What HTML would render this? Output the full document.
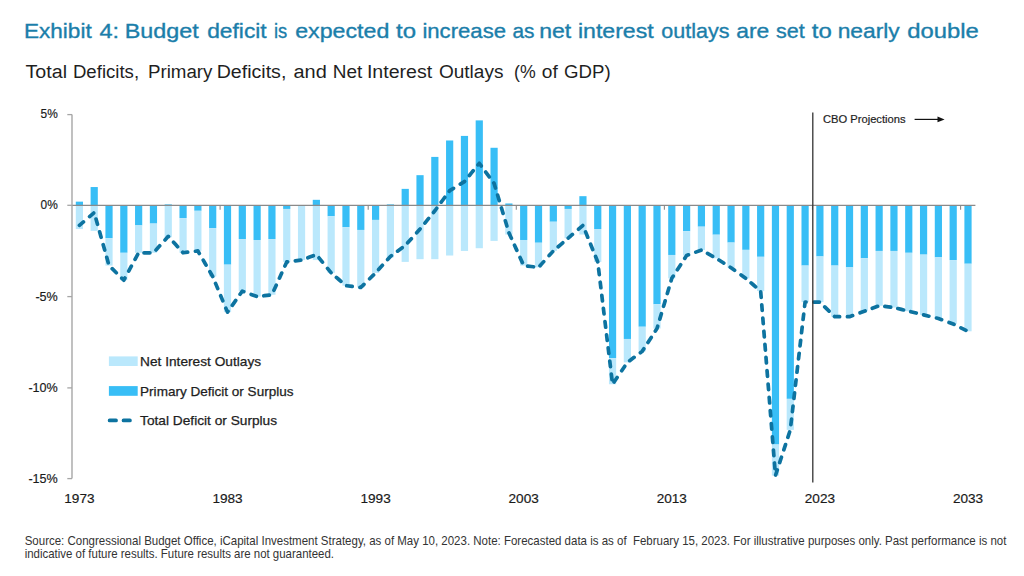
<!DOCTYPE html>
<html><head><meta charset="utf-8"><style>
html,body{margin:0;padding:0;background:#fff;width:1024px;height:576px;overflow:hidden}
svg{display:block}
text{font-family:"Liberation Sans",sans-serif}
.ax{font-size:13.6px;fill:#1a1a1a;stroke:#1a1a1a;stroke-width:0.18px}
.lg{font-size:13px;fill:#1e1e1e;stroke:#1e1e1e;stroke-width:0.25px}
</style></head><body>
<svg width="1024" height="576" viewBox="0 0 1024 576">
<rect width="1024" height="576" fill="#fff"/>
<text x="23.90" y="37.8" textLength="67.80" lengthAdjust="spacingAndGlyphs" style="font-size:20.4px;fill:#1b7eaa;stroke:#1b7eaa;stroke-width:0.35px">Exhibit</text><text x="99.50" y="37.8" textLength="19.60" lengthAdjust="spacingAndGlyphs" style="font-size:20.4px;fill:#1b7eaa;stroke:#1b7eaa;stroke-width:0.35px">4:</text><text x="124.65" y="37.8" textLength="74.05" lengthAdjust="spacingAndGlyphs" style="font-size:20.4px;fill:#1b7eaa;stroke:#1b7eaa;stroke-width:0.35px">Budget</text><text x="207.20" y="37.8" textLength="59.50" lengthAdjust="spacingAndGlyphs" style="font-size:20.4px;fill:#1b7eaa;stroke:#1b7eaa;stroke-width:0.35px">deficit</text><text x="273.95" y="37.8" textLength="13.30" lengthAdjust="spacingAndGlyphs" style="font-size:20.4px;fill:#1b7eaa;stroke:#1b7eaa;stroke-width:0.35px">is</text><text x="295.20" y="37.8" textLength="94.10" lengthAdjust="spacingAndGlyphs" style="font-size:20.4px;fill:#1b7eaa;stroke:#1b7eaa;stroke-width:0.35px">expected</text><text x="396.00" y="37.8" textLength="20.00" lengthAdjust="spacingAndGlyphs" style="font-size:20.4px;fill:#1b7eaa;stroke:#1b7eaa;stroke-width:0.35px">to</text><text x="422.40" y="37.8" textLength="83.60" lengthAdjust="spacingAndGlyphs" style="font-size:20.4px;fill:#1b7eaa;stroke:#1b7eaa;stroke-width:0.35px">increase</text><text x="512.45" y="37.8" textLength="22.05" lengthAdjust="spacingAndGlyphs" style="font-size:20.4px;fill:#1b7eaa;stroke:#1b7eaa;stroke-width:0.35px">as</text><text x="539.15" y="37.8" textLength="32.05" lengthAdjust="spacingAndGlyphs" style="font-size:20.4px;fill:#1b7eaa;stroke:#1b7eaa;stroke-width:0.35px">net</text><text x="577.90" y="37.8" textLength="75.80" lengthAdjust="spacingAndGlyphs" style="font-size:20.4px;fill:#1b7eaa;stroke:#1b7eaa;stroke-width:0.35px">interest</text><text x="661.20" y="37.8" textLength="68.30" lengthAdjust="spacingAndGlyphs" style="font-size:20.4px;fill:#1b7eaa;stroke:#1b7eaa;stroke-width:0.35px">outlays</text><text x="736.20" y="37.8" textLength="33.05" lengthAdjust="spacingAndGlyphs" style="font-size:20.4px;fill:#1b7eaa;stroke:#1b7eaa;stroke-width:0.35px">are</text><text x="775.95" y="37.8" textLength="28.75" lengthAdjust="spacingAndGlyphs" style="font-size:20.4px;fill:#1b7eaa;stroke:#1b7eaa;stroke-width:0.35px">set</text><text x="811.75" y="37.8" textLength="20.00" lengthAdjust="spacingAndGlyphs" style="font-size:20.4px;fill:#1b7eaa;stroke:#1b7eaa;stroke-width:0.35px">to</text><text x="837.65" y="37.8" textLength="62.05" lengthAdjust="spacingAndGlyphs" style="font-size:20.4px;fill:#1b7eaa;stroke:#1b7eaa;stroke-width:0.35px">nearly</text><text x="907.20" y="37.8" textLength="71.60" lengthAdjust="spacingAndGlyphs" style="font-size:20.4px;fill:#1b7eaa;stroke:#1b7eaa;stroke-width:0.35px">double</text>
<text x="25.50" y="77.9" textLength="41.55" lengthAdjust="spacingAndGlyphs" style="font-size:17.6px;fill:#1f1f1f">Total</text><text x="72.95" y="77.9" textLength="66.15" lengthAdjust="spacingAndGlyphs" style="font-size:17.6px;fill:#1f1f1f">Deficits,</text><text x="147.95" y="77.9" textLength="64.55" lengthAdjust="spacingAndGlyphs" style="font-size:17.6px;fill:#1f1f1f">Primary</text><text x="216.70" y="77.9" textLength="69.65" lengthAdjust="spacingAndGlyphs" style="font-size:17.6px;fill:#1f1f1f">Deficits,</text><text x="293.50" y="77.9" textLength="33.30" lengthAdjust="spacingAndGlyphs" style="font-size:17.6px;fill:#1f1f1f">and</text><text x="332.70" y="77.9" textLength="29.55" lengthAdjust="spacingAndGlyphs" style="font-size:17.6px;fill:#1f1f1f">Net</text><text x="366.90" y="77.9" textLength="65.35" lengthAdjust="spacingAndGlyphs" style="font-size:17.6px;fill:#1f1f1f">Interest</text><text x="438.95" y="77.9" textLength="64.55" lengthAdjust="spacingAndGlyphs" style="font-size:17.6px;fill:#1f1f1f">Outlays</text><text x="514.04" y="77.9" textLength="21.64" lengthAdjust="spacingAndGlyphs" style="font-size:17.6px;fill:#1f1f1f">(%</text><text x="541.88" y="77.9" textLength="16.00" lengthAdjust="spacingAndGlyphs" style="font-size:17.6px;fill:#1f1f1f">of</text><text x="564.10" y="77.9" textLength="46.58" lengthAdjust="spacingAndGlyphs" style="font-size:17.6px;fill:#1f1f1f">GDP)</text>
<rect x="75.80" y="201.65" width="7.2" height="3.65" fill="#38bef6"/><rect x="75.80" y="205.30" width="7.2" height="23.74" fill="#bae8fc"/><rect x="90.61" y="187.04" width="7.2" height="18.26" fill="#38bef6"/><rect x="90.61" y="205.30" width="7.2" height="25.56" fill="#bae8fc"/><rect x="105.42" y="205.30" width="7.2" height="32.87" fill="#38bef6"/><rect x="105.42" y="238.17" width="7.2" height="27.39" fill="#bae8fc"/><rect x="120.23" y="205.30" width="7.2" height="47.48" fill="#38bef6"/><rect x="120.23" y="252.78" width="7.2" height="27.39" fill="#bae8fc"/><rect x="135.04" y="205.30" width="7.2" height="20.09" fill="#38bef6"/><rect x="135.04" y="225.39" width="7.2" height="27.39" fill="#bae8fc"/><rect x="149.85" y="205.30" width="7.2" height="18.26" fill="#38bef6"/><rect x="149.85" y="223.56" width="7.2" height="29.22" fill="#bae8fc"/><rect x="164.66" y="204.39" width="7.2" height="0.91" fill="#38bef6"/><rect x="164.66" y="205.30" width="7.2" height="31.96" fill="#bae8fc"/><rect x="179.47" y="205.30" width="7.2" height="12.78" fill="#38bef6"/><rect x="179.47" y="218.08" width="7.2" height="34.69" fill="#bae8fc"/><rect x="194.28" y="205.30" width="7.2" height="5.48" fill="#38bef6"/><rect x="194.28" y="210.78" width="7.2" height="40.17" fill="#bae8fc"/><rect x="209.09" y="205.30" width="7.2" height="22.83" fill="#38bef6"/><rect x="209.09" y="228.12" width="7.2" height="48.39" fill="#bae8fc"/><rect x="223.90" y="205.30" width="7.2" height="59.35" fill="#38bef6"/><rect x="223.90" y="264.65" width="7.2" height="47.48" fill="#bae8fc"/><rect x="238.71" y="205.30" width="7.2" height="33.78" fill="#38bef6"/><rect x="238.71" y="239.08" width="7.2" height="52.04" fill="#bae8fc"/><rect x="253.52" y="205.30" width="7.2" height="34.69" fill="#38bef6"/><rect x="253.52" y="239.99" width="7.2" height="56.61" fill="#bae8fc"/><rect x="268.33" y="205.30" width="7.2" height="33.78" fill="#38bef6"/><rect x="268.33" y="239.08" width="7.2" height="55.69" fill="#bae8fc"/><rect x="283.14" y="205.30" width="7.2" height="3.65" fill="#38bef6"/><rect x="283.14" y="208.95" width="7.2" height="52.95" fill="#bae8fc"/><rect x="297.95" y="205.30" width="7.2" height="0.00" fill="#38bef6"/><rect x="297.95" y="205.30" width="7.2" height="54.78" fill="#bae8fc"/><rect x="312.76" y="199.82" width="7.2" height="5.48" fill="#38bef6"/><rect x="312.76" y="205.30" width="7.2" height="54.78" fill="#bae8fc"/><rect x="327.57" y="205.30" width="7.2" height="10.96" fill="#38bef6"/><rect x="327.57" y="216.26" width="7.2" height="56.61" fill="#bae8fc"/><rect x="342.38" y="205.30" width="7.2" height="21.91" fill="#38bef6"/><rect x="342.38" y="227.21" width="7.2" height="58.43" fill="#bae8fc"/><rect x="357.19" y="205.30" width="7.2" height="24.65" fill="#38bef6"/><rect x="357.19" y="229.95" width="7.2" height="57.52" fill="#bae8fc"/><rect x="372.00" y="205.30" width="7.2" height="14.61" fill="#38bef6"/><rect x="372.00" y="219.91" width="7.2" height="52.95" fill="#bae8fc"/><rect x="386.81" y="204.39" width="7.2" height="0.91" fill="#38bef6"/><rect x="386.81" y="205.30" width="7.2" height="52.04" fill="#bae8fc"/><rect x="401.62" y="188.87" width="7.2" height="16.43" fill="#38bef6"/><rect x="401.62" y="205.30" width="7.2" height="56.61" fill="#bae8fc"/><rect x="416.43" y="175.17" width="7.2" height="30.13" fill="#38bef6"/><rect x="416.43" y="205.30" width="7.2" height="53.87" fill="#bae8fc"/><rect x="431.24" y="156.91" width="7.2" height="48.39" fill="#38bef6"/><rect x="431.24" y="205.30" width="7.2" height="53.87" fill="#bae8fc"/><rect x="446.05" y="140.48" width="7.2" height="64.82" fill="#38bef6"/><rect x="446.05" y="205.30" width="7.2" height="50.22" fill="#bae8fc"/><rect x="460.86" y="135.91" width="7.2" height="69.39" fill="#38bef6"/><rect x="460.86" y="205.30" width="7.2" height="45.65" fill="#bae8fc"/><rect x="475.67" y="120.39" width="7.2" height="84.91" fill="#38bef6"/><rect x="475.67" y="205.30" width="7.2" height="42.91" fill="#bae8fc"/><rect x="490.48" y="147.78" width="7.2" height="57.52" fill="#38bef6"/><rect x="490.48" y="205.30" width="7.2" height="35.61" fill="#bae8fc"/><rect x="505.29" y="203.47" width="7.2" height="1.83" fill="#38bef6"/><rect x="505.29" y="205.30" width="7.2" height="29.22" fill="#bae8fc"/><rect x="520.10" y="205.30" width="7.2" height="34.69" fill="#38bef6"/><rect x="520.10" y="239.99" width="7.2" height="25.56" fill="#bae8fc"/><rect x="534.91" y="205.30" width="7.2" height="37.43" fill="#38bef6"/><rect x="534.91" y="242.73" width="7.2" height="24.65" fill="#bae8fc"/><rect x="549.72" y="205.30" width="7.2" height="16.43" fill="#38bef6"/><rect x="549.72" y="221.73" width="7.2" height="29.22" fill="#bae8fc"/><rect x="564.53" y="205.30" width="7.2" height="3.65" fill="#38bef6"/><rect x="564.53" y="208.95" width="7.2" height="29.22" fill="#bae8fc"/><rect x="579.34" y="196.17" width="7.2" height="9.13" fill="#38bef6"/><rect x="579.34" y="205.30" width="7.2" height="29.22" fill="#bae8fc"/><rect x="594.15" y="205.30" width="7.2" height="23.74" fill="#38bef6"/><rect x="594.15" y="229.04" width="7.2" height="32.87" fill="#bae8fc"/><rect x="608.96" y="205.30" width="7.2" height="152.84" fill="#38bef6"/><rect x="608.96" y="358.14" width="7.2" height="26.11" fill="#bae8fc"/><rect x="623.77" y="205.30" width="7.2" height="133.66" fill="#38bef6"/><rect x="623.77" y="338.96" width="7.2" height="23.37" fill="#bae8fc"/><rect x="638.58" y="205.30" width="7.2" height="121.43" fill="#38bef6"/><rect x="638.58" y="326.73" width="7.2" height="24.65" fill="#bae8fc"/><rect x="653.39" y="205.30" width="7.2" height="98.97" fill="#38bef6"/><rect x="653.39" y="304.27" width="7.2" height="24.29" fill="#bae8fc"/><rect x="668.20" y="205.30" width="7.2" height="49.67" fill="#38bef6"/><rect x="668.20" y="254.97" width="7.2" height="23.37" fill="#bae8fc"/><rect x="683.01" y="205.30" width="7.2" height="25.93" fill="#38bef6"/><rect x="683.01" y="231.23" width="7.2" height="24.29" fill="#bae8fc"/><rect x="697.82" y="205.30" width="7.2" height="21.36" fill="#38bef6"/><rect x="697.82" y="226.66" width="7.2" height="23.37" fill="#bae8fc"/><rect x="712.63" y="205.30" width="7.2" height="29.40" fill="#38bef6"/><rect x="712.63" y="234.70" width="7.2" height="23.56" fill="#bae8fc"/><rect x="727.44" y="205.30" width="7.2" height="37.25" fill="#38bef6"/><rect x="727.44" y="242.55" width="7.2" height="25.20" fill="#bae8fc"/><rect x="742.25" y="205.30" width="7.2" height="44.55" fill="#38bef6"/><rect x="742.25" y="249.85" width="7.2" height="28.49" fill="#bae8fc"/><rect x="757.06" y="205.30" width="7.2" height="51.49" fill="#38bef6"/><rect x="757.06" y="256.79" width="7.2" height="34.33" fill="#bae8fc"/><rect x="771.87" y="205.30" width="7.2" height="239.21" fill="#38bef6"/><rect x="771.87" y="444.51" width="7.2" height="31.04" fill="#bae8fc"/><rect x="786.68" y="205.30" width="7.2" height="193.56" fill="#38bef6"/><rect x="786.68" y="398.86" width="7.2" height="31.04" fill="#bae8fc"/><rect x="801.49" y="205.30" width="7.2" height="60.26" fill="#38bef6"/><rect x="801.49" y="265.56" width="7.2" height="36.52" fill="#bae8fc"/><rect x="816.30" y="205.30" width="7.2" height="51.13" fill="#38bef6"/><rect x="816.30" y="256.43" width="7.2" height="45.65" fill="#bae8fc"/><rect x="831.11" y="205.30" width="7.2" height="60.26" fill="#38bef6"/><rect x="831.11" y="265.56" width="7.2" height="51.13" fill="#bae8fc"/><rect x="845.92" y="205.30" width="7.2" height="62.08" fill="#38bef6"/><rect x="845.92" y="267.38" width="7.2" height="49.30" fill="#bae8fc"/><rect x="860.73" y="205.30" width="7.2" height="52.95" fill="#38bef6"/><rect x="860.73" y="258.25" width="7.2" height="52.95" fill="#bae8fc"/><rect x="875.54" y="205.30" width="7.2" height="45.65" fill="#38bef6"/><rect x="875.54" y="250.95" width="7.2" height="54.78" fill="#bae8fc"/><rect x="890.35" y="205.30" width="7.2" height="45.65" fill="#38bef6"/><rect x="890.35" y="250.95" width="7.2" height="56.61" fill="#bae8fc"/><rect x="905.16" y="205.30" width="7.2" height="47.48" fill="#38bef6"/><rect x="905.16" y="252.78" width="7.2" height="58.43" fill="#bae8fc"/><rect x="919.97" y="205.30" width="7.2" height="49.30" fill="#38bef6"/><rect x="919.97" y="254.60" width="7.2" height="60.26" fill="#bae8fc"/><rect x="934.78" y="205.30" width="7.2" height="52.04" fill="#38bef6"/><rect x="934.78" y="257.34" width="7.2" height="61.17" fill="#bae8fc"/><rect x="949.59" y="205.30" width="7.2" height="54.78" fill="#38bef6"/><rect x="949.59" y="260.08" width="7.2" height="63.91" fill="#bae8fc"/><rect x="964.40" y="205.30" width="7.2" height="58.43" fill="#38bef6"/><rect x="964.40" y="263.73" width="7.2" height="67.56" fill="#bae8fc"/>
<line x1="72.0" y1="205.3" x2="975.4" y2="205.3" stroke="#8a8a8a" stroke-width="1.3"/>
<line x1="220.10" y1="205.3" x2="220.10" y2="209.8" stroke="#8a8a8a" stroke-width="1.1"/><line x1="368.20" y1="205.3" x2="368.20" y2="209.8" stroke="#8a8a8a" stroke-width="1.1"/><line x1="516.30" y1="205.3" x2="516.30" y2="209.8" stroke="#8a8a8a" stroke-width="1.1"/><line x1="664.39" y1="205.3" x2="664.39" y2="209.8" stroke="#8a8a8a" stroke-width="1.1"/><line x1="812.49" y1="205.3" x2="812.49" y2="209.8" stroke="#8a8a8a" stroke-width="1.1"/><line x1="960.59" y1="205.3" x2="960.59" y2="209.8" stroke="#8a8a8a" stroke-width="1.1"/>
<line x1="72.0" y1="114.6" x2="72.0" y2="478.6" stroke="#a6a6a6" stroke-width="1.4"/>
<polyline points="67.3,114.6 72.0,114.6" fill="none" stroke="#a6a6a6" stroke-width="1.3"/>
<line x1="67.3" y1="205.3" x2="72.0" y2="205.3" stroke="#a6a6a6" stroke-width="1.3"/>
<line x1="67.3" y1="296.60" x2="72.0" y2="296.60" stroke="#a6a6a6" stroke-width="1.3"/>
<line x1="67.3" y1="387.90" x2="72.0" y2="387.90" stroke="#a6a6a6" stroke-width="1.3"/>
<line x1="67.3" y1="478.6" x2="72.0" y2="478.6" stroke="#a6a6a6" stroke-width="1.3"/>
<path d="M79.40,225.39 C79.40,225.39 94.21,212.60 94.21,212.60 C94.21,212.60 109.02,265.56 109.02,265.56 C109.02,265.56 123.83,280.17 123.83,280.17 C123.83,280.17 138.64,252.78 138.64,252.78 C138.64,252.78 153.45,252.78 153.45,252.78 C153.45,252.78 168.26,236.34 168.26,236.34 C168.26,236.34 183.07,252.78 183.07,252.78 C183.07,252.78 197.88,250.95 197.88,250.95 C197.88,250.95 212.69,276.51 212.69,276.51 C212.69,276.51 227.50,312.12 227.50,312.12 C227.50,312.12 242.31,291.12 242.31,291.12 C242.31,291.12 257.12,296.60 257.12,296.60 C257.12,296.60 271.93,294.77 271.93,294.77 C271.93,294.77 286.74,261.91 286.74,261.91 C286.74,261.91 301.55,260.08 301.55,260.08 C301.55,260.08 316.36,254.60 316.36,254.60 C316.36,254.60 331.17,272.86 331.17,272.86 C331.17,272.86 345.98,285.64 345.98,285.64 C345.98,285.64 360.79,287.47 360.79,287.47 C360.79,287.47 375.60,272.86 375.60,272.86 C375.60,272.86 390.41,256.43 390.41,256.43 C390.41,256.43 405.22,245.47 405.22,245.47 C405.22,245.47 420.03,229.04 420.03,229.04 C420.03,229.04 434.84,210.78 434.84,210.78 C434.84,210.78 449.65,190.69 449.65,190.69 C449.65,190.69 464.46,181.56 464.46,181.56 C464.46,181.56 479.27,163.30 479.27,163.30 C479.27,163.30 494.08,183.39 494.08,183.39 C494.08,183.39 508.89,232.69 508.89,232.69 C508.89,232.69 523.70,265.56 523.70,265.56 C523.70,265.56 538.51,267.38 538.51,267.38 C538.51,267.38 553.32,250.95 553.32,250.95 C553.32,250.95 568.13,238.17 568.13,238.17 C568.13,238.17 582.94,225.39 582.94,225.39 C582.94,225.39 597.75,261.91 597.75,261.91 C597.75,261.91 612.56,384.25 612.56,384.25 C612.56,384.25 627.37,362.34 627.37,362.34 C627.37,362.34 642.18,351.38 642.18,351.38 C642.18,351.38 656.99,328.56 656.99,328.56 C656.99,328.56 671.80,278.34 671.80,278.34 C671.80,278.34 686.61,255.52 686.61,255.52 C686.61,255.52 701.42,250.04 701.42,250.04 C701.42,250.04 716.23,258.25 716.23,258.25 C716.23,258.25 731.04,267.75 731.04,267.75 C731.04,267.75 745.85,278.34 745.85,278.34 C745.85,278.34 760.66,291.12 760.66,291.12 C760.66,291.12 775.47,475.55 775.47,475.55 C775.47,475.55 790.28,429.90 790.28,429.90 C790.28,429.90 805.09,302.08 805.09,302.08 C805.09,302.08 819.90,302.08 819.90,302.08 C819.90,302.08 834.71,316.69 834.71,316.69 C834.71,316.69 849.52,316.69 849.52,316.69 C849.52,316.69 864.33,311.21 864.33,311.21 C864.33,311.21 879.14,305.73 879.14,305.73 C879.14,305.73 893.95,307.56 893.95,307.56 C893.95,307.56 908.76,311.21 908.76,311.21 C908.76,311.21 923.57,314.86 923.57,314.86 C923.57,314.86 938.38,318.51 938.38,318.51 C938.38,318.51 953.19,323.99 953.19,323.99 C953.19,323.99 968.00,331.29 968.00,331.29" fill="none" stroke="#0d73a0" stroke-width="3.7" stroke-dasharray="5.6 7.6" stroke-linecap="round" stroke-linejoin="round"/>
<line x1="812.8" y1="112.5" x2="812.8" y2="482.5" stroke="#333" stroke-width="1.3"/>
<text x="822.9" y="122.9" textLength="82.7" lengthAdjust="spacingAndGlyphs" style="font-size:11.5px;fill:#1e1e1e;stroke:#1e1e1e;stroke-width:0.2px">CBO Projections</text>
<line x1="914.6" y1="119.4" x2="939" y2="119.4" stroke="#111" stroke-width="1.2"/>
<path d="M944.6,119.4 L937.5,116.6 L937.5,122.2 Z" fill="#111"/>
<text x="40.60" y="118.00" textLength="17.2" lengthAdjust="spacingAndGlyphs" class="ax">5%</text><text x="40.60" y="209.30" textLength="17.2" lengthAdjust="spacingAndGlyphs" class="ax">0%</text><text x="35.40" y="300.60" textLength="22.4" lengthAdjust="spacingAndGlyphs" class="ax">-5%</text><text x="28.40" y="391.90" textLength="29.4" lengthAdjust="spacingAndGlyphs" class="ax">-10%</text><text x="28.40" y="483.20" textLength="29.4" lengthAdjust="spacingAndGlyphs" class="ax">-15%</text>
<text x="79.40" y="503.3" text-anchor="middle" class="ax">1973</text><text x="227.50" y="503.3" text-anchor="middle" class="ax">1983</text><text x="375.60" y="503.3" text-anchor="middle" class="ax">1993</text><text x="523.70" y="503.3" text-anchor="middle" class="ax">2003</text><text x="671.80" y="503.3" text-anchor="middle" class="ax">2013</text><text x="819.90" y="503.3" text-anchor="middle" class="ax">2023</text><text x="968.00" y="503.3" text-anchor="middle" class="ax">2033</text>
<rect x="108.9" y="356.4" width="28.8" height="9.6" fill="#bae8fc"/>
<rect x="108.9" y="386.1" width="28.8" height="9.7" fill="#38bef6"/>
<line x1="109.6" y1="420.4" x2="129.95" y2="420.4" stroke="#0d73a0" stroke-width="3.7" stroke-dasharray="6.45 7.45" stroke-linecap="round"/>
<text x="140.1" y="366" textLength="121" lengthAdjust="spacingAndGlyphs" class="lg">Net Interest Outlays</text>
<text x="140.1" y="395.8" textLength="153.4" lengthAdjust="spacingAndGlyphs" class="lg">Primary Deficit or Surplus</text>
<text x="140.1" y="425" textLength="137" lengthAdjust="spacingAndGlyphs" class="lg">Total Deficit or Surplus</text>
<text x="24.7" y="544.8" textLength="981.7" lengthAdjust="spacingAndGlyphs" style="font-size:11.9px;fill:#333;white-space:pre" xml:space="preserve">Source: Congressional Budget Office, iCapital Investment Strategy, as of May 10, 2023. Note: Forecasted data is as of  February 15, 2023. For illustrative purposes only. Past performance is not</text>
<text x="24.7" y="557.7" textLength="309.3" lengthAdjust="spacingAndGlyphs" style="font-size:11.9px;fill:#333">indicative of future results. Future results are not guaranteed.</text>
</svg>
</body></html>
